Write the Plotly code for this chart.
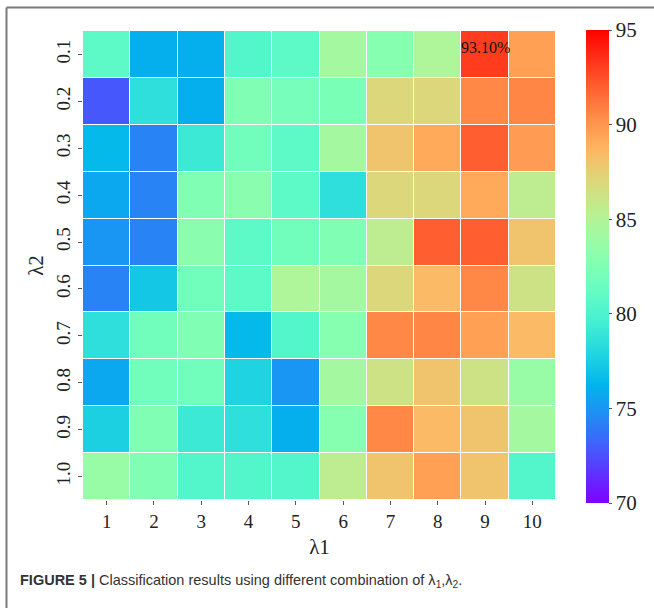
import numpy as np
import plotly.graph_objects as go

lambda1 = ["1", "2", "3", "4", "5", "6", "7", "8", "9", "10"]
lambda2 = ["0.1", "0.2", "0.3", "0.4", "0.5", "0.6", "0.7", "0.8", "0.9", "1.0"]

row_01 = [80.8, 76.0, 76.0, 80.3, 80.8, 84.3, 82.8, 84.8, 93.1, 89.6]
row_02 = [72.8, 78.5, 76.0, 82.5, 82.0, 82.2, 87.0, 87.0, 90.5, 90.6]
row_03 = [76.5, 74.3, 79.2, 81.8, 80.8, 84.3, 88.0, 89.2, 92.0, 89.8]
row_04 = [75.7, 74.3, 82.5, 83.0, 80.8, 78.5, 87.0, 87.0, 89.2, 85.5]
row_05 = [75.0, 74.3, 83.0, 80.8, 81.8, 82.5, 85.5, 92.0, 92.0, 88.0]
row_06 = [74.3, 77.2, 81.8, 80.8, 84.8, 84.3, 87.0, 88.5, 90.5, 86.3]
row_07 = [78.5, 81.8, 82.5, 76.5, 80.3, 82.8, 90.5, 90.6, 89.6, 88.5]
row_08 = [75.7, 81.8, 81.8, 77.8, 75.0, 84.3, 86.3, 88.0, 86.3, 83.7]
row_09 = [77.6, 82.5, 79.2, 78.5, 76.0, 82.8, 90.5, 88.5, 88.0, 84.3]
row_10 = [83.7, 82.5, 80.3, 80.3, 80.3, 85.5, 88.0, 89.6, 88.0, 80.3]
values = [row_01, row_02, row_03, row_04, row_05, row_06, row_07, row_08, row_09, row_10]

best_label = "93.10%"
best_x, best_y = "9", "0.1"

zmin, zmax = 70, 95
cbar_ticks = [70, 75, 80, 85, 90, 95]

# matplotlib 'rainbow' colormap
def rainbow(t):
    r = min(1, abs(2 * t - 0.5))
    g = np.sin(np.pi * t)
    b = np.cos(np.pi * t / 2)
    return "rgb(%d,%d,%d)" % (round(r * 255), round(g * 255), round(b * 255))

cs = [[t, rainbow(t)] for t in np.linspace(0, 1, 41)]

serif = "Liberation Serif"

W, H = 654, 608
L, R, T, B = 83, 98, 31, 108
pw, ph = W - L - R, H - T - B

def px(x):
    return (x - L) / pw

def py(y):
    return (H - B - y) / ph

fig = go.Figure(go.Heatmap(
    x=lambda1, y=lambda2, z=values,
    zmin=zmin, zmax=zmax, colorscale=cs,
    xgap=1, ygap=1, hoverongaps=False,
    colorbar=dict(
        x=px(586), xanchor="left", xpad=0, y=py(30), yanchor="top", ypad=0,
        len=(503 - 30) / ph, lenmode="fraction", thickness=23, thicknessmode="pixels",
        outlinewidth=0, tickvals=cbar_ticks, ticks="outside", ticklen=3,
        tickcolor="#555", tickfont=dict(family=serif, size=21, color="#222"),
    ),
))

fig.add_annotation(x=lambda1.index(best_x), y=lambda2.index(best_y), text=best_label,
                   showarrow=False, yshift=7, font=dict(family=serif, size=16, color="#111"))

fig.add_shape(type="line", xref="paper", yref="paper",
              x0=px(6.5), x1=px(W + 2), y0=py(7.5), y1=py(7.5),
              line=dict(color="#7a7a7a", width=2))
fig.add_shape(type="line", xref="paper", yref="paper",
              x0=px(6.5), x1=px(6.5), y0=py(7.5), y1=py(H + 2),
              line=dict(color="#7a7a7a", width=2))

fig.add_annotation(xref="paper", yref="paper", x=px(18), y=py(581),
                   xanchor="left", yanchor="middle", showarrow=False,
                   text="<b>FIGURE 5 |</b> Classification results using different combination of λ<sub>1</sub>,λ<sub>2</sub>.",
                   font=dict(family="Liberation Sans", size=14.5, color="#333"))

fig.update_xaxes(
    type="category", title=dict(text="λ1", font=dict(family=serif, size=21, color="#222"), standoff=8),
    tickfont=dict(family=serif, size=19, color="#222"), ticks="outside", ticklen=4,
    tickcolor="#555", showgrid=False, zeroline=False, showline=False,
)
fig.update_yaxes(
    type="category", autorange="reversed",
    title=dict(text="λ2", font=dict(family=serif, size=21, color="#222"), standoff=4),
    tickfont=dict(family=serif, size=19, color="#222"), tickangle=-90, ticks="outside", ticklen=4,
    tickcolor="#555", showgrid=False, zeroline=False, showline=False,
)

fig.update_layout(
    width=W, height=H, margin=dict(l=L, r=R, t=T, b=B, autoexpand=False),
    paper_bgcolor="white", plot_bgcolor="white", showlegend=False,
)

fig.write_html("out.html")
